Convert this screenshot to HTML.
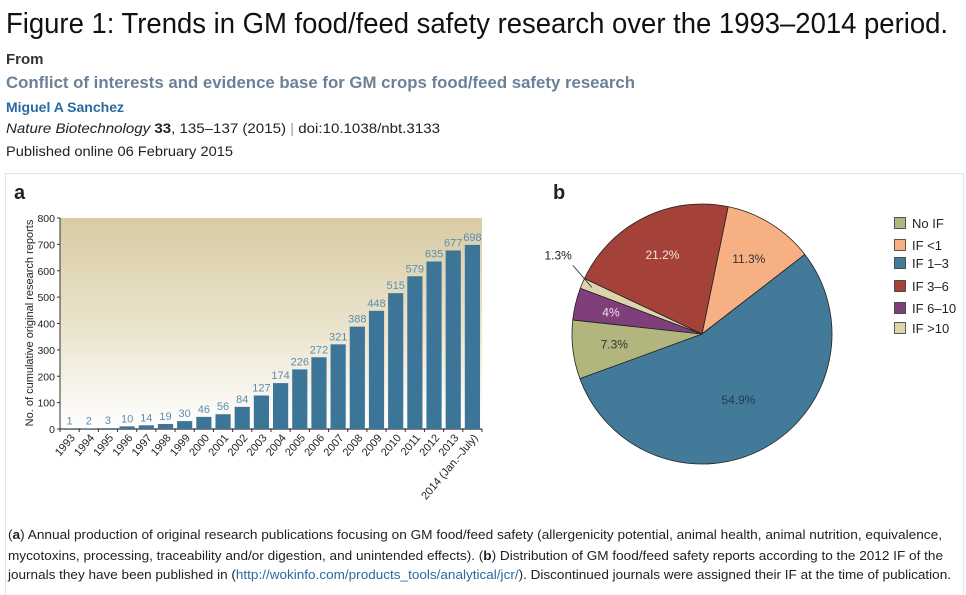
<!DOCTYPE html>
<html><head><meta charset="utf-8"><style>
html,body{margin:0;padding:0;background:#fff;}
svg{display:block;font-family:"Liberation Sans",sans-serif;}
</style></head><body>
<svg id="page" width="966" height="595" viewBox="0 0 966 595" xmlns="http://www.w3.org/2000/svg">
<defs>
<linearGradient id="bg" x1="0" y1="0" x2="0" y2="1">
<stop offset="0" stop-color="#d8cca4"/><stop offset="0.55" stop-color="#ece5cf"/><stop offset="1" stop-color="#ffffff"/>
</linearGradient>
</defs>
<text x="6" y="33" font-size="29" fill="#111" textLength="942" lengthAdjust="spacingAndGlyphs">Figure 1: Trends in GM food/feed safety research over the 1993–2014 period.</text>
<text x="6" y="64" font-size="15" font-weight="bold" fill="#333">From</text>
<text x="6" y="88" font-size="16.5" font-weight="bold" fill="#6a8198" textLength="629" lengthAdjust="spacingAndGlyphs">Conflict of interests and evidence base for GM crops food/feed safety research</text>
<text x="6" y="112" font-size="14" font-weight="bold" fill="#2b6aa0">Miguel A Sanchez</text>
<text x="6" y="133" font-size="14" fill="#222" textLength="434" lengthAdjust="spacingAndGlyphs"><tspan font-style="italic">Nature Biotechnology</tspan>  <tspan font-weight="bold">33</tspan>,  135–137  (2015)  <tspan fill="#999">|</tspan>  doi:10.1038/nbt.3133</text>
<text x="6" y="156" font-size="14" fill="#222" textLength="227" lengthAdjust="spacingAndGlyphs">Published online  06 February 2015</text>
<rect x="5.5" y="173.5" width="958" height="430" fill="none" stroke="#e4e4e4"/>
<text x="14" y="199" font-size="20" font-weight="bold" fill="#222">a</text>
<text x="553" y="199" font-size="20" font-weight="bold" fill="#222">b</text>
<g id="bar"></g>
<g id="pie"></g>
<g font-size="13" fill="#222">
<text x="8" y="539" textLength="934" lengthAdjust="spacingAndGlyphs">(<tspan font-weight="bold">a</tspan>) Annual production of original research publications focusing on GM food/feed safety (allergenicity potential, animal health, animal nutrition, equivalence,</text>
<text x="8" y="560" textLength="935" lengthAdjust="spacingAndGlyphs">mycotoxins, processing, traceability and/or digestion, and unintended effects). (<tspan font-weight="bold">b</tspan>) Distribution of GM food/feed safety reports according to the 2012 IF of the</text>
<text x="8" y="579" textLength="943" lengthAdjust="spacingAndGlyphs">journals they have been published in (<tspan fill="#2b6aa0">http://wokinfo.com/products_tools/analytical/jcr/</tspan>). Discontinued journals were assigned their IF at the time of publication.</text>
</g>
</svg>
<script>
const years=["1993","1994","1995","1996","1997","1998","1999","2000","2001","2002","2003","2004","2005","2006","2007","2008","2009","2010","2011","2012","2013","2014 (Jan.–July)"];
const reports=[1,2,3,10,14,19,30,46,56,84,127,174,226,272,321,388,448,515,579,635,677,698];
const yTicks=[0,100,200,300,400,500,600,700,800];
const pieLabels=["IF <1","IF 1–3","No IF","IF 6–10","IF >10","IF 3–6"];
const pieValues=[11.3,54.9,7.3,4,1.3,21.2];
const legendLabels=["No IF","IF <1","IF 1–3","IF 3–6","IF 6–10","IF >10"];

const NS="http://www.w3.org/2000/svg";
function mk(tag,attrs,parent,text){const e=document.createElementNS(NS,tag);for(const k in attrs)e.setAttribute(k,attrs[k]);if(text!==undefined)e.textContent=text;parent.appendChild(e);return e;}
const colors={"No IF":"#b3b57e","IF <1":"#f6b083","IF 1–3":"#437a99","IF 3–6":"#a4423a","IF 6–10":"#7e3f7b","IF >10":"#ddd3ac"};

const bar=document.getElementById('bar');
const X0=60,X1=482,Y0=429,Y1=218,YMAX=800;
const slot=(X1-X0)/years.length;
const yS=v=>Y0-(v/YMAX)*(Y0-Y1);
const xS=i=>X0+i*slot;
let bg=mk('rect',{x:X0,y:Y1,width:X1-X0,height:Y0-Y1,fill:'url(#bg)'},bar);


mk('line',{x1:X0,y1:Y1,x2:X0,y2:Y0,stroke:'#333','stroke-width':1},bar);
mk('line',{x1:X0,y1:Y0,x2:X1,y2:Y0,stroke:'#333','stroke-width':1.2},bar);
yTicks.forEach(t=>{
  mk('line',{x1:X0-3,y1:yS(t),x2:X0,y2:yS(t),stroke:'#333'},bar);
  const tl=mk('text',{x:X0-5,y:yS(t)+4,'font-size':10.5,'text-anchor':'end',fill:'#222'},bar,t);
  
  
});
const yt=mk('text',{transform:'translate(33,323) rotate(-90)','font-size':11,'text-anchor':'middle',fill:'#222'},bar,'No. of cumulative original research reports');


years.forEach((yr,i)=>{
  const v=reports[i];
  const b=mk('rect',{x:xS(i)+2,y:yS(v),width:slot-4,height:Y0-yS(v),fill:'#3d7599'},bar);
  
  
  const vl=mk('text',{x:xS(i)+slot/2,y:yS(v)-4,'font-size':11,'text-anchor':'middle',fill:'#5b8db0'},bar,v);
  
  
  mk('line',{x1:xS(i+1),y1:Y0,x2:xS(i+1),y2:Y0+3,stroke:'#333'},bar);
  const cx=xS(i)+slot/2+6,cy=Y0+9;
  const xl=mk('text',{x:cx,y:cy,'font-size':11,'text-anchor':'end',fill:'#222',transform:`rotate(-50 ${cx} ${cy})`},bar,yr);
  
  
});
mk('line',{x1:X0,y1:Y0,x2:X0,y2:Y0+3,stroke:'#333'},bar);

const pie=document.getElementById('pie');
const CX=702,CY=334,R=130,START=11.6;
const total=pieValues.reduce((a,b)=>a+b,0);
const pt=(deg,r)=>{const a=deg*Math.PI/180;return [CX+r*Math.sin(a),CY-r*Math.cos(a)];};
let ang=START;
const labelColor={"IF 3–6":"#f3e3dc","IF 6–10":"#f0e0ef","IF 1–3":"#1f3d52","IF <1":"#333","No IF":"#333"};
pieLabels.forEach((lab,i)=>{
  const sweep=pieValues[i]/total*360;
  const a0=ang,a1=ang+sweep;
  const [x0,y0]=pt(a0,R),[x1,y1]=pt(a1,R);
  const p=mk('path',{d:`M${CX},${CY} L${x0},${y0} A${R},${R} 0 ${sweep>180?1:0} 1 ${x1},${y1} Z`,fill:colors[lab],stroke:'#222','stroke-width':0.8},pie);
  
  
  const mid=(a0+a1)/2;
  let txt=pieValues[i]+'%';
  if(lab==="IF >10"){
    const [ex,ey]=pt(mid,R*0.92);
    mk('line',{x1:ex,y1:ey,x2:ex-19,y2:ey-22,stroke:'#222','stroke-width':0.8},pie);
    const t=mk('text',{x:ex-20,y:ey-28,'font-size':12,'text-anchor':'end',fill:'#222'},pie,txt);
    
    
  } else {
    const rr=lab==="IF 1–3"?0.58:(lab==="IF 6–10"?0.72:0.68);
    const [lx,ly]=pt(mid,R*rr);
    const t=mk('text',{x:lx,y:ly+4,'font-size':12,'text-anchor':'middle',fill:labelColor[lab]},pie,txt);
    
    
  }
  ang=a1;
});
const ly0=[223,245,263,286,308,328];
legendLabels.forEach((lab,i)=>{
  const y=ly0[i];
  const sw=mk('rect',{x:894.5,y:y-5.5,width:11,height:11,fill:colors[lab],stroke:'#333','stroke-width':0.8},pie);
  
  
  const t=mk('text',{x:912,y:y+5,'font-size':13,fill:'#222'},pie,lab);
  
  
});
</script>
</body></html>
